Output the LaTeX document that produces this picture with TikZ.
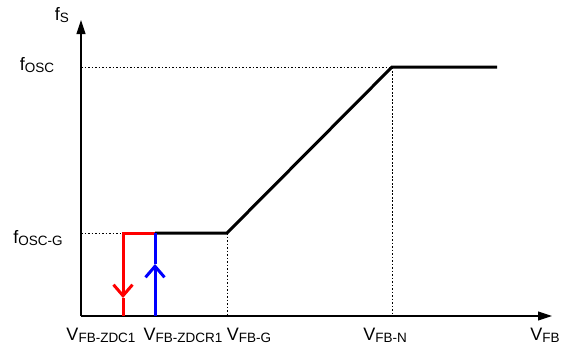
\documentclass[tikz,border=0pt]{standalone}
\usepackage{fontspec}
\setmainfont{Liberation Sans}
\usetikzlibrary{arrows.meta}
\newcommand{\lowsub}[1]{\raisebox{-2.5pt}{\fontsize{13.5}{15}\selectfont #1}}

\begin{document}
\begin{tikzpicture}[x=1pt,y=-1pt,
	axis/.style={line width=1.1pt,-{Triangle[length=14pt,width=9pt]}},
	guide/.style={line width=0.9pt,dash pattern=on 1.8pt off 1.7pt},
	curve/.style={line width=3pt},
	barb/.style={-{Straight Barb[length=11pt,width=19pt]}},
	axlabel/.style={font=\fontsize{18}{20}\selectfont,inner sep=0pt,anchor=base}]
	\useasboundingbox (0,0) rectangle (565,348);
	
	% Points
	\coordinate (o) at (81,316);
	\coordinate (ytip) at (81,20);
	\coordinate (xtip) at (552,316);
	\coordinate (yosc) at (81,67);
	\coordinate (yoscg) at (81,233);
	\coordinate (rtop) at (123,233);
	\coordinate (rmid) at (123,298);
	\coordinate (rbot) at (123,316);
	\coordinate (btop) at (155,233);
	\coordinate (bmid) at (155,264);
	\coordinate (bbot) at (155,316);
	\coordinate (gtop) at (227,233);
	\coordinate (gbot) at (227,316);
	\coordinate (ntop) at (392,67);
	\coordinate (nbot) at (392,316);
	\coordinate (fend) at (497,67);
	
	% Axes
	\draw[axis] (o) -- (ytip);
	\draw[axis] (o) -- (xtip);
	
	% Guides
	\draw[guide] (yosc) -- (ntop) -- (nbot);
	\draw[guide] (yoscg) -- (rtop);
	\draw[guide] (gtop) -- (gbot);
	
	% Curve
	\draw[curve,line join=miter] (btop) -- (gtop) -- (ntop) -- (fend);
	\draw[curve,red,barb] (btop) -- (rtop) -- (rmid);
	\draw[curve,red] (rmid) -- (rbot);
	\draw[curve,blue,barb] (bbot) -- (bmid);
	\draw[curve,blue] (bmid) -- (btop);
	
	% Labels
	\node[axlabel] (fs) at (62,20) {f\lowsub{S}};
	\node[axlabel] (fosc) at (37,70) {f\lowsub{OSC}};
	\node[axlabel] (foscg) at (38,243) {f\lowsub{OSC-G}};
	\node[axlabel] (vzdc) at (101,340) {V\lowsub{FB-ZDC1}};
	\node[axlabel] (vzdcr) at (183,340) {V\lowsub{FB-ZDCR1}};
	\node[axlabel] (vg) at (249,340) {V\lowsub{FB-G}};
	\node[axlabel] (vn) at (385,340) {V\lowsub{FB-N}};
	\node[axlabel] (vfb) at (545,340) {V\lowsub{FB}};
\end{tikzpicture}
\end{document}
